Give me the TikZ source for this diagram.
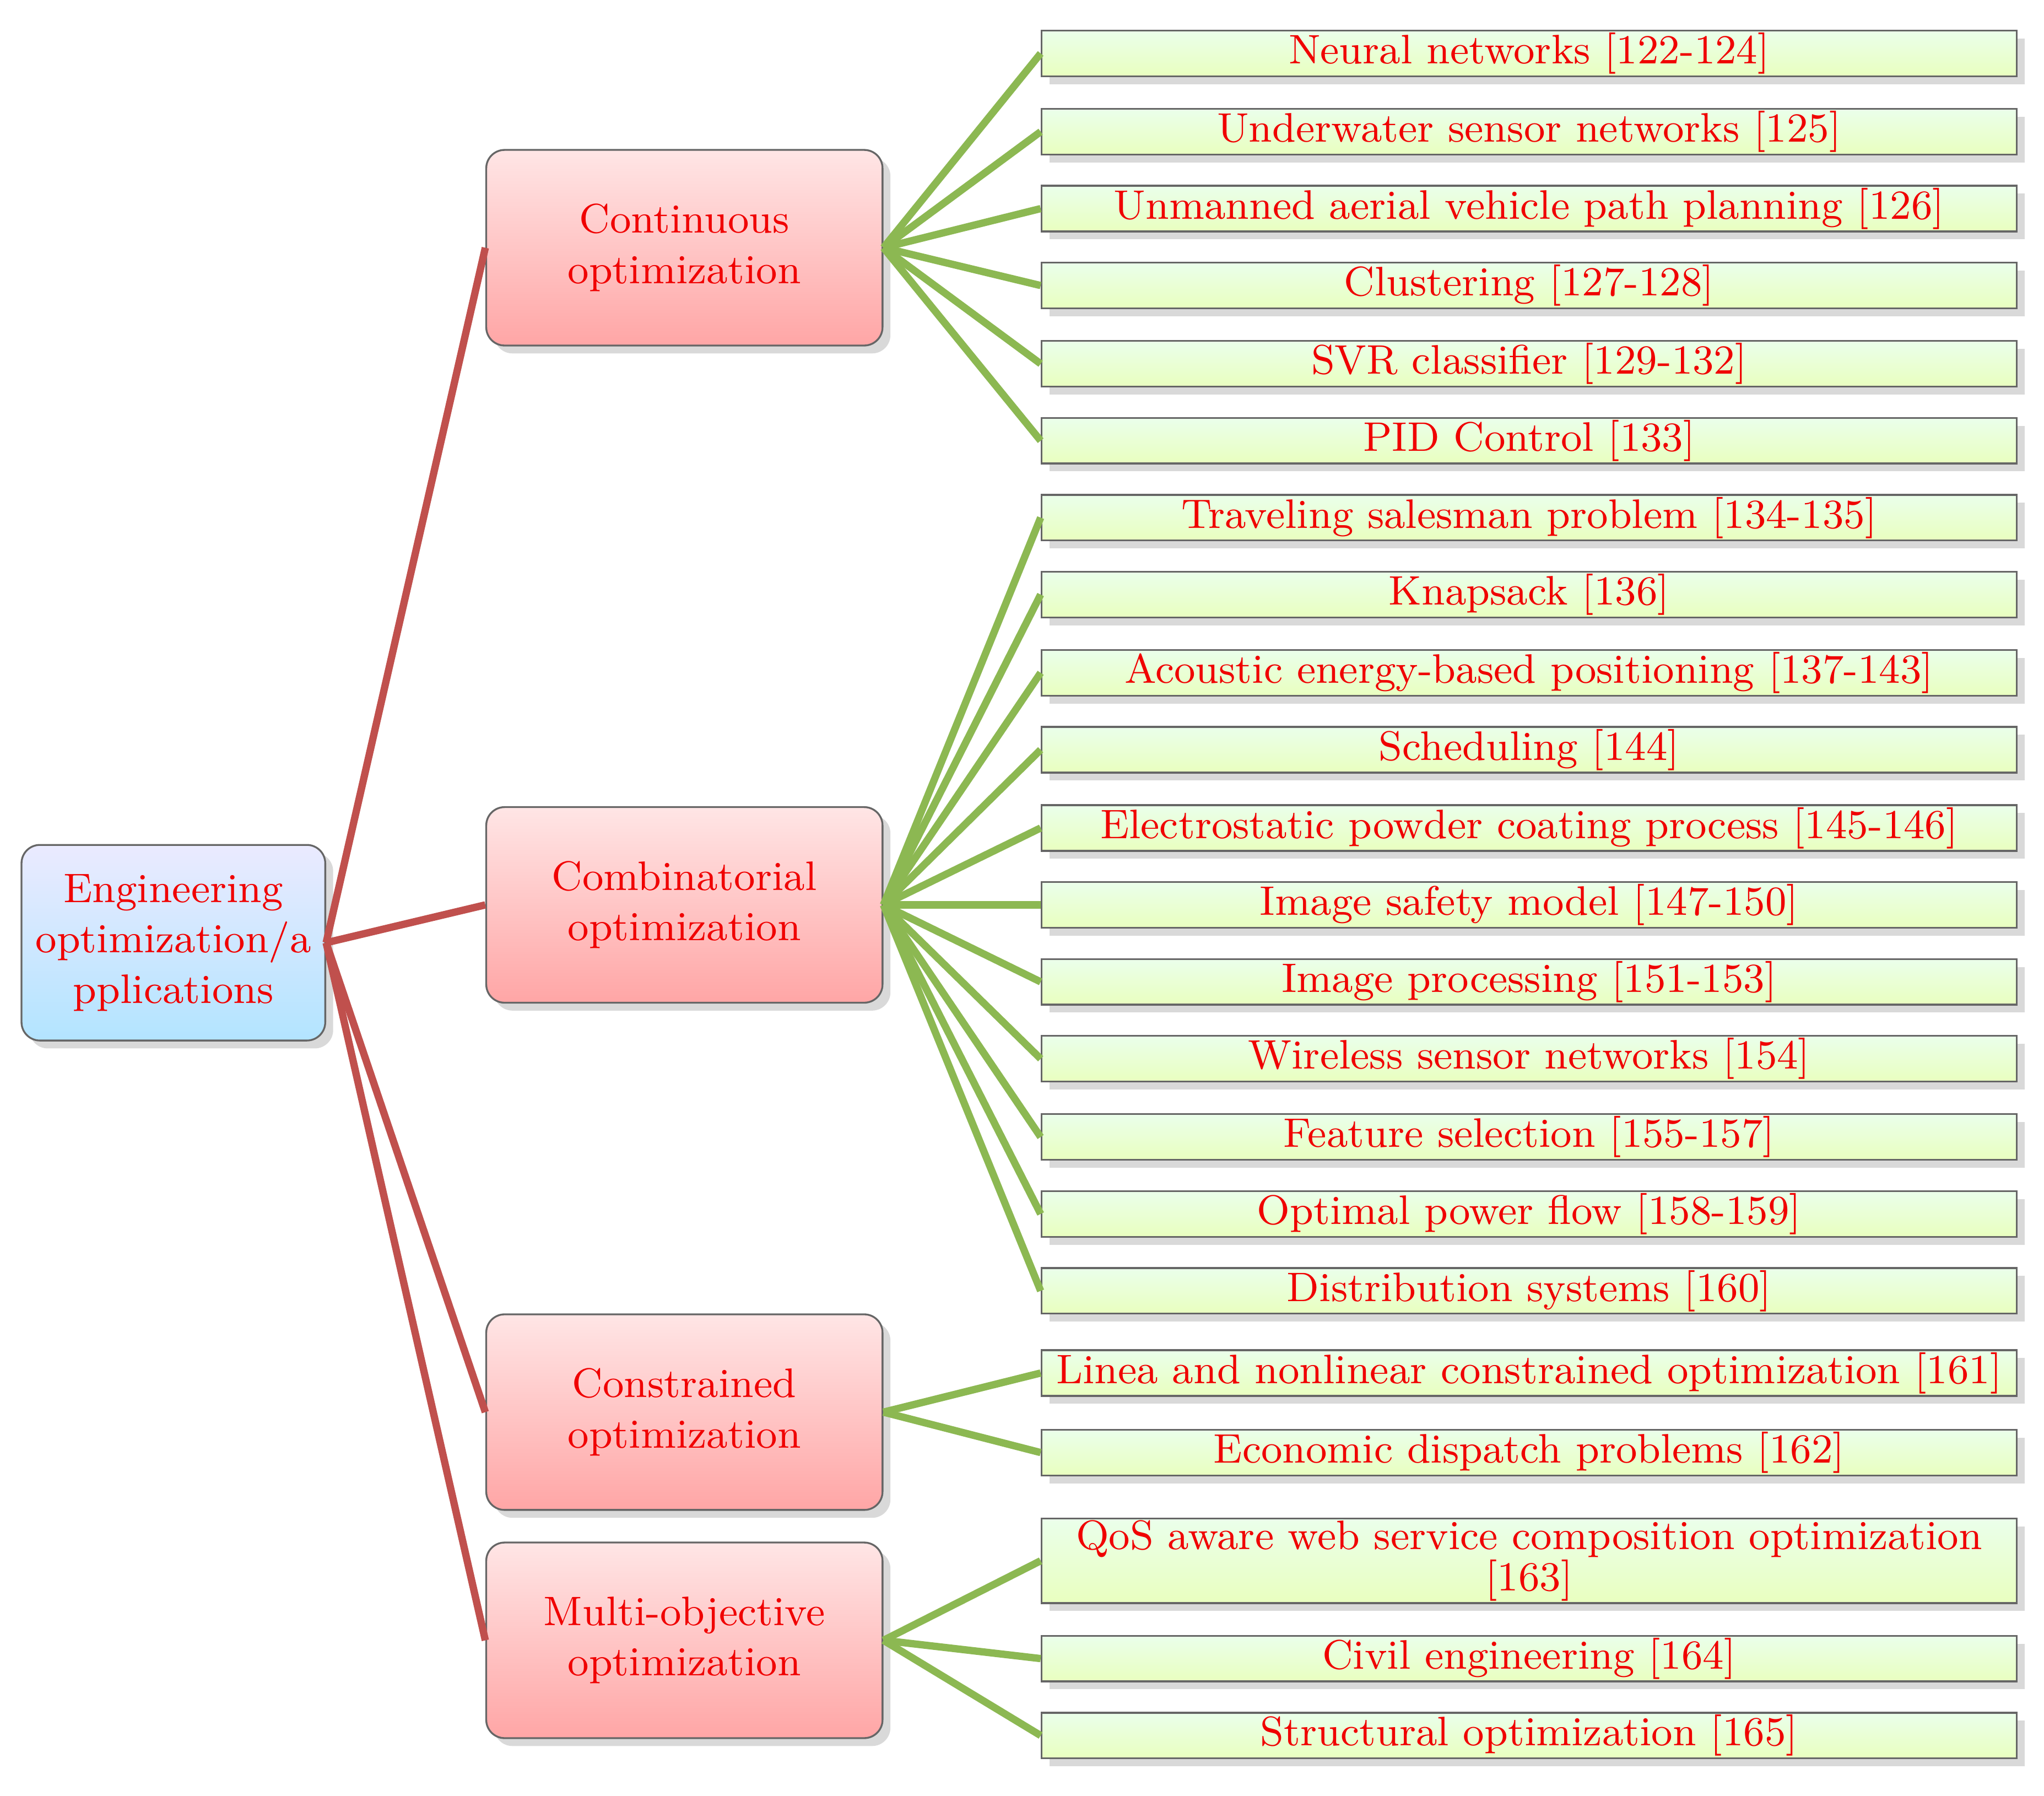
\documentclass[tikz,border=0pt]{standalone}
\usetikzlibrary{shadows}
\definecolor{redline}{HTML}{C0504D}
\definecolor{greenline}{HTML}{8CB852}
\definecolor{txtred}{HTML}{F00000}
\tikzset{
  box/.style={draw=black!60, rounded corners=4pt, text=txtred, align=center,
    font=\fontsize{9}{11}\selectfont, drop shadow={opacity=0.3, shadow xshift=0.4ex, shadow yshift=-0.4ex}},
  rootbox/.style={box, top color=blue!8, bottom color=blue!35!cyan!30, minimum width=2.33cm, minimum height=1.5cm, text width=2.15cm, inner sep=1pt},
  midbox/.style={box, top color=red!10, bottom color=red!35, minimum width=3.04cm, minimum height=1.5cm, text width=2.8cm, inner sep=1pt},
  leafbox/.style={draw=black!60, text=txtred, align=center, font=\fontsize{9}{10}\selectfont,
    top color=green!8!white, bottom color=green!35!yellow!25, minimum width=7.48cm, minimum height=0.35cm,
    inner sep=0pt, drop shadow={opacity=0.3, shadow xshift=0.4ex, shadow yshift=-0.4ex}},
  redlink/.style={redline, line width=1.6pt},
  greenlink/.style={greenline, line width=1.6pt}
}
\begin{document}
\begin{tikzpicture}
\useasboundingbox (0,0) rectangle (15.68,13.77);
% root and groups
\node[rootbox] (root) at (1.33,6.54) {Engineering optimization/a pplications};
\node[midbox] (cont) at (5.25,11.87) {Continuous optimization};
\node[midbox] (comb) at (5.25,6.83) {Combinatorial optimization};
\node[midbox] (cons) at (5.25,2.94) {Constrained optimization};
\node[midbox] (mult) at (5.25,1.19) {Multi-objective optimization};
\foreach \g in {cont,comb,cons,mult}
  \draw[redlink] (root.east) -- (\g.west);
% leaves
\foreach \n/\y/\t/\g in {
  a/13.36/{Neural networks [122-124]}/cont,
  b/12.76/{Underwater sensor networks [125]}/cont,
  c/12.17/{Unmanned aerial vehicle path planning [126]}/cont,
  d/11.58/{Clustering [127-128]}/cont,
  e/10.98/{SVR classifier [129-132]}/cont,
  f/10.39/{PID Control [133]}/cont,
  g/9.80/{Traveling salesman problem [134-135]}/comb,
  h/9.21/{Knapsack [136]}/comb,
  i/8.61/{Acoustic energy-based positioning [137-143]}/comb,
  j/8.02/{Scheduling [144]}/comb,
  k/7.42/{Electrostatic powder coating process [145-146]}/comb,
  l/6.83/{Image safety model [147-150]}/comb,
  m/6.24/{Image processing [151-153]}/comb,
  n/5.65/{Wireless sensor networks [154]}/comb,
  o/5.05/{Feature selection [155-157]}/comb,
  p/4.46/{Optimal power flow [158-159]}/comb,
  q/3.87/{Distribution systems [160]}/comb,
  r/3.24/{Linea and nonlinear constrained optimization [161]}/cons,
  s/2.63/{Economic dispatch problems [162]}/cons,
  u/1.05/{Civil engineering [164]}/mult,
  v/0.46/{Structural optimization [165]}/mult}
{
  \node[leafbox] (\n) at (11.73,\y) {\t};
  \draw[greenlink] (\g.east) -- (\n.west);
}
\node[leafbox, minimum height=0.65cm] (t) at (11.73,1.80) {QoS aware web service composition optimization\\[-1pt] [163]};
\draw[greenlink] (mult.east) -- (t.west);
\end{tikzpicture}
\end{document}
